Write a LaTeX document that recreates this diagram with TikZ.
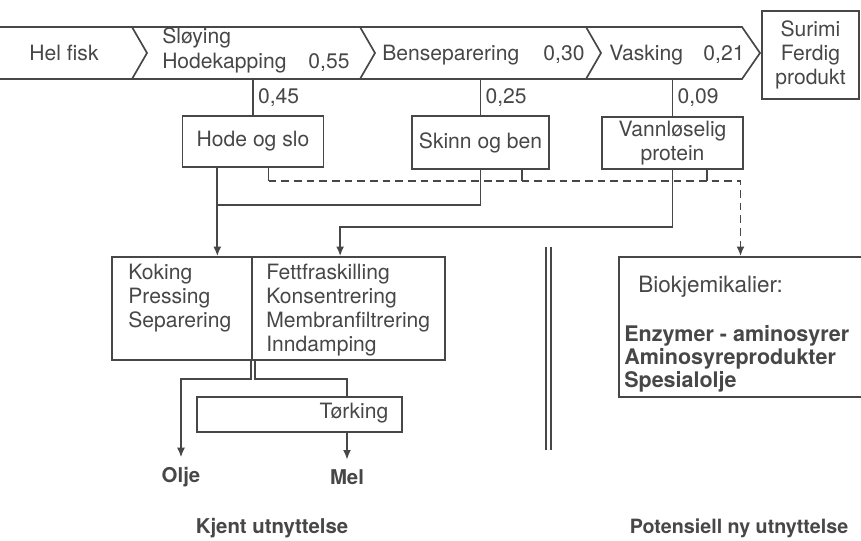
\documentclass[tikz,border=0pt]{standalone}
\usepackage{fontspec}
\setmainfont{TeX Gyre Heros}
\usepackage{xcolor}
\usetikzlibrary{arrows.meta, positioning, calc}
\definecolor{ink}{HTML}{474747}

\begin{document}
\begin{tikzpicture}[x=0.025cm, y=-0.025cm, line width=1.2pt, color=ink,
  font=\fontsize{15}{17}\selectfont,
  box/.style={draw, rectangle, inner sep=2pt, align=center},
  txt/.style={inner sep=1pt, align=left},
  bold/.style={font=\fontsize{14.5}{17}\selectfont\bfseries},
  endtxt/.style={bold, inner sep=1pt, outer sep=6pt},
  arr/.style={-{Latex[length=2.4mm,width=2mm]}},
  dline/.style={dash pattern=on 5.5pt off 3.5pt}]
  \useasboundingbox (0,0) rectangle (861,540);
  % process band
  \draw (0,27) -- (742,27) -- (760,53) -- (742,79) -- (0,79);
  \foreach \xc in {132,360,586}
    \draw (\xc,27) -- (\xc+15,53) -- (\xc,79);
  \coordinate (bandb) at (0,79);
  \node (helfisk) at (64,53) {Hel fisk};
  \node[txt, anchor=west] (sloy) at (160,38) {Sløying};
  \node[txt, anchor=west] (hodek) at (160,63) {Hodekapping};
  \node (f055) at (329,63) {0,55};
  \node[txt, anchor=west] (bensep) at (380,55) {Benseparering};
  \node (f030) at (564,55) {0,30};
  \node[txt, anchor=west] (vask) at (607,55) {Vasking};
  \node (f021) at (724,55) {0,21};
  \node[box, minimum width=2.425cm, minimum height=2.2cm] (surimi) at (810.5,55) {Surimi\\Ferdig\\produkt};
  % byproducts
  \node[box, minimum width=3.525cm, minimum height=1.275cm] (hode) at (253,141.5) {Hode og slo};
  \node[box, minimum width=3.425cm, minimum height=1.325cm] (skinn) at (480.5,142.5) {Skinn og ben};
  \node[box, minimum width=3.525cm, minimum height=1.3cm] (vann) at (672.5,143) {Vannløselig\\protein};
  \draw (hode.north) -- (hode.north |- bandb) node[midway, right, inner sep=3pt] (l045) {0,45};
  \draw (skinn.north) -- (skinn.north |- bandb) node[midway, right, inner sep=3pt] (l025) {0,25};
  \draw (vann.north) -- (vann.north |- bandb) node[midway, right, inner sep=3pt] (l009) {0,09};
  % known use
  \node[box, minimum width=3.5cm, minimum height=2.575cm] (koking) at (182,308.5) {};
  \node[box, minimum width=4.825cm, minimum height=2.575cm] (fett) at (348.5,308.5) {};
  \node[txt, anchor=north west] (kokingtxt) at ($(koking.north west)+(15,6)$) {Koking\\Pressing\\Separering};
  \node[txt, anchor=north west] (fetttxt) at ($(fett.north west)+(13,6)$) {Fettfraskilling\\Konsentrering\\Membranfiltrering\\Inndamping};
  \node[box, minimum width=5.125cm, minimum height=0.875cm] (torking) at (299.5,414.5) {};
  \node[txt] (torkingtxt) at (354,413) {Tørking};
  \node[endtxt] (olje) at (181,477) {Olje};
  \node[endtxt] (mel) at (347,477) {Mel};
  \coordinate (hx) at ($(hode.south west)!.25!(hode.south east)$);
  \coordinate (fx) at ($(fett.north west)+(89,0)$);
  \draw[arr] (hx) -- (hx |- koking.north);
  \draw (skinn.south) |- ($(hx)+(0,37)$);
  \draw[arr] (vann.south) |- ($(fx)+(0,-29)$) -- (fx);
  \draw[arr] ($(koking.south east)+(-2,0)$) -- ++(0,18) -| (olje);
  \draw ($(koking.south east)+(2,0)$) -- ++(0,18) -| (torking.north -| mel);
  \draw[arr] (torking.south -| mel) -- (mel);
  % potential use
  \node[box, minimum width=6.075cm, minimum height=3.5cm] (bio) at (740.5,327) {};
  \node[txt, anchor=west, font=\fontsize{16}{17}\selectfont] (biotxt) at (636,287) {Biokjemikalier:};
  \node[txt, anchor=north west, font=\fontsize{15.3}{16.5}\selectfont\bfseries] (biolist) at (622,323) {Enzymer - aminosyrer\\Aminosyreprodukter\\Spesialolje};
  \coordinate (d1) at ($(hode.south west)+(87,0)$);
  \coordinate (d2) at ($(skinn.south west)+(111,0)$);
  \coordinate (d3) at ($(vann.south west)+(106,0)$);
  \coordinate (dl) at ($(d1)+(0,13)$);
  \draw (d1) -- (dl);
  \draw (d2) -- (d2 |- dl);
  \draw (d3) -- (d3 |- dl);
  \draw[dline, arr] (dl) -| (bio.north);
  % divider
  \draw[double, double distance=2.4pt] (548.5,247) -- (548.5,450);
  \node[bold] (kjent) at (272,528) {Kjent utnyttelse};
  \node[bold, font=\fontsize{14}{17}\selectfont\bfseries] (potens) at (739,528) {Potensiell ny utnyttelse};
\end{tikzpicture}
\end{document}
